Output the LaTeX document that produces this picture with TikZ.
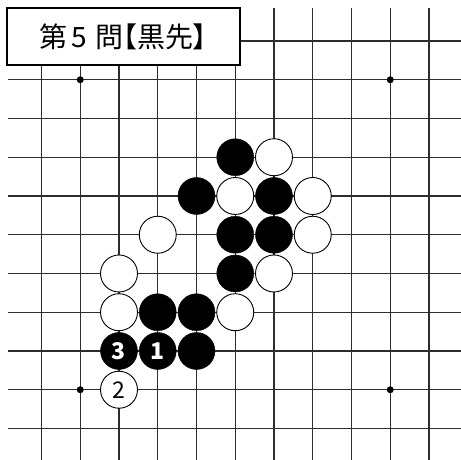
\documentclass[tikz,border=0pt]{standalone}
\usepackage{fontspec}
\newfontfamily\jpfont[RawFeature=+palt]{Noto Sans CJK JP}
\definecolor{gridgray}{RGB}{45, 45, 45}
\usetikzlibrary{positioning}
\tikzset{
  bstone/.style={circle, fill=black, draw=black, minimum size=37pt, inner sep=0pt,
                 text=white, font=\jpfont\bfseries\fontsize{23}{23}\selectfont},
  wstone/.style={circle, fill=white, draw=black, line width=0.9pt, minimum size=37pt,
                 inner sep=0pt, font=\jpfont\fontsize{23}{23}\selectfont},
  starpt/.style={circle, fill=black, minimum size=7pt, inner sep=0pt}
}

\begin{document}
\begin{tikzpicture}[x=38.75pt, y=-38.75pt]
\useasboundingbox (-1.071, -1.058) rectangle (10.826, 10.813);
% board
\foreach \i in {0,...,10} {
  \draw[gridgray, line width=1.4pt] (\i, -0.85) -- (\i, 10.813);
  \draw[gridgray, line width=1.4pt] (-0.86, \i) -- (10.826, \i);
}
\node[starpt] (s1) at (1, 1) {};
\node[starpt] (s2) at (9, 1) {};
\node[starpt] (s3) at (1, 9) {};
\node[starpt] (s4) at (9, 9) {};
% stones
\node[bstone] (b1) at (5, 3) {};
\node[wstone] (w1) at (6, 3) {};
\node[bstone] (b2) at (4, 4) {};
\node[wstone] (w2) at (5, 4) {};
\node[bstone] (b3) at (6, 4) {};
\node[wstone] (w3) at (7, 4) {};
\node[wstone] (w4) at (3, 5) {};
\node[bstone] (b4) at (5, 5) {};
\node[bstone] (b5) at (6, 5) {};
\node[wstone] (w5) at (7, 5) {};
\node[wstone] (w6) at (2, 6) {};
\node[bstone] (b6) at (5, 6) {};
\node[wstone] (w7) at (6, 6) {};
\node[wstone] (w8) at (2, 7) {};
\node[bstone] (b7) at (3, 7) {};
\node[bstone] (b8) at (4, 7) {};
\node[wstone] (w9) at (5, 7) {};
\node[bstone] (b9) at (4, 8) {};
% moves
\node[bstone] (m1) at (3, 8) {1};
\node[wstone] (m2) at (2, 9) {2};
\node[bstone] (m3) at (2, 8) {3};
% title
\node[draw=black, fill=white, line width=1.6pt, minimum width=233pt, minimum height=57pt,
      inner sep=0pt, font=\jpfont\fontsize{28}{28}\selectfont] (title) at (2.116, -0.116)
      {第\hspace{4pt}5\hspace{8pt}問【黒先】};
\end{tikzpicture}
\end{document}
